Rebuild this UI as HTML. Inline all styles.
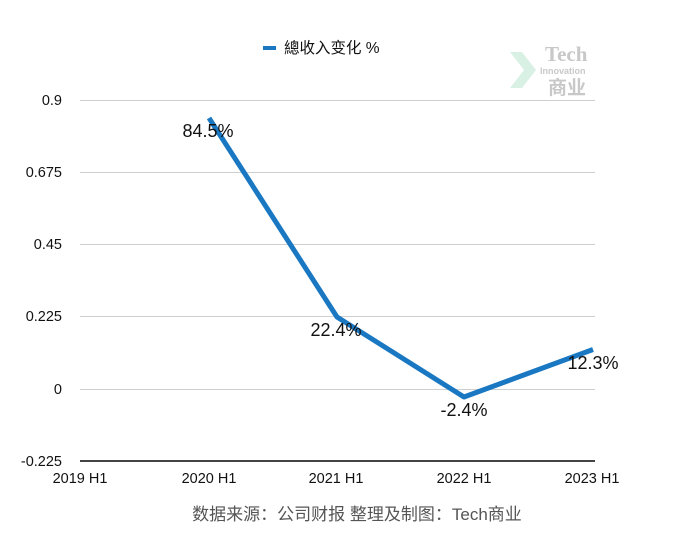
<!DOCTYPE html>
<html><head><meta charset="utf-8"><style>body{margin:0;background:#fff}</style></head>
<body>
<svg width="678" height="550" xmlns="http://www.w3.org/2000/svg" font-family="'Liberation Sans','Noto Sans CJK SC',sans-serif">
<rect width="678" height="550" fill="#fff"/>
<g stroke="#cfcfcf" stroke-width="1">
<line x1="80" x2="595" y1="100.5" y2="100.5"/>
<line x1="80" x2="595" y1="172.5" y2="172.5"/>
<line x1="80" x2="595" y1="244.5" y2="244.5"/>
<line x1="80" x2="595" y1="316.5" y2="316.5"/>
<line x1="80" x2="595" y1="389.5" y2="389.5"/>
</g>
<line x1="80" x2="595" y1="461" y2="461" stroke="#444" stroke-width="2"/>
<g font-size="14.5" fill="#111" text-anchor="end">
<text x="62" y="105">0.9</text>
<text x="62" y="177">0.675</text>
<text x="62" y="249">0.45</text>
<text x="62" y="321">0.225</text>
<text x="62" y="394">0</text>
<text x="62" y="466">-0.225</text>
</g>
<g font-size="14.5" fill="#111" text-anchor="middle">
<text x="80" y="483">2019 H1</text>
<text x="209" y="483">2020 H1</text>
<text x="336" y="483">2021 H1</text>
<text x="464" y="483">2022 H1</text>
<text x="592" y="483">2023 H1</text>
</g>
<polyline points="209,118 337,317 464,397 593,349.5" fill="none" stroke="#1a78c2" stroke-width="5" stroke-linejoin="round"/>
<g font-size="18" fill="#111" text-anchor="middle">
<text x="208" y="137">84.5%</text>
<text x="336" y="336">22.4%</text>
<text x="464" y="416">-2.4%</text>
<text x="593" y="369">12.3%</text>
</g>
<line x1="263" x2="276" y1="48" y2="48" stroke="#1a78c2" stroke-width="4"/>
<text x="284" y="53" font-size="15.5" fill="#111">總收入变化 %</text>
<polygon points="510,52 522,52 536,70 522,88 510,88 524,70" fill="#cfeedd" opacity="0.8"/>
<text x="545" y="61" font-size="21" font-weight="bold" fill="#c8c8c8" font-family="'Liberation Serif',serif">Tech</text>
<text x="540" y="74" font-size="9" font-weight="bold" fill="#c8c8c8">Innovation</text>
<text x="548" y="94" font-size="19" font-weight="bold" fill="#c8c8c8">商业</text>
<text x="357" y="520" font-size="17" fill="#555" text-anchor="middle">数据来源：公司财报 整理及制图：Tech商业</text>
</svg>
</body></html>
